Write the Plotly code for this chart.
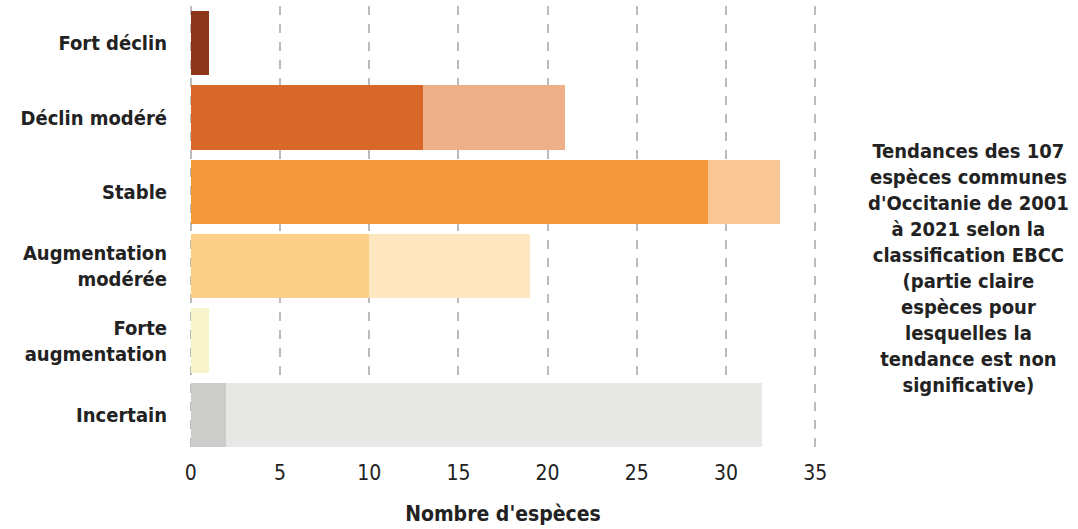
import plotly.graph_objects as go

categories = ["Fort déclin", "Déclin modéré", "Stable", "Augmentation<br>modérée",
              "Forte<br>augmentation", "Incertain"]
significant = [1, 13, 29, 10, 0, 2]
non_significant = [0, 8, 4, 9, 1, 30]
colors_sig = ["#8E361B", "#D8672A", "#F4993B", "#FCCF88", "#F7F4CC", "#CCCDCA"]
colors_nonsig = ["#8E361B", "#EEB089", "#F9C695", "#FDE6C0", "#F7F4CC", "#E7E7E6"]
x_ticks = [0, 5, 10, 15, 20, 25, 30, 35]
note = ("Tendances des 107<br>espèces communes<br>d'Occitanie de 2001<br>à 2021 selon la<br>"
        "classification EBCC<br>(partie claire<br>espèces pour<br>lesquelles la<br>"
        "tendance est non<br>significative)")

FONT = "Liberation Sans Narrow, DejaVu Sans Condensed, Roboto, sans-serif"

fig = go.Figure()
fig.add_trace(go.Bar(y=categories, x=significant, orientation="h",
                     marker=dict(color=colors_sig, line=dict(width=0)),
                     name="significative", hoverinfo="x+y"))
fig.add_trace(go.Bar(y=categories, x=non_significant, orientation="h",
                     marker=dict(color=colors_nonsig, line=dict(width=0)),
                     name="non significative", hoverinfo="x+y"))

fig.update_layout(
    barmode="stack",
    bargap=0.135,
    width=1078, height=529,
    margin=dict(l=189, r=261, t=6, b=77),
    paper_bgcolor="white", plot_bgcolor="white",
    showlegend=False,
    font=dict(family=FONT, color="#222222"),
    xaxis=dict(range=[-0.1, 35.1], tickvals=x_ticks, showgrid=True,
               gridcolor="#BBBBBB", griddash="dash", gridwidth=1.5,
               zeroline=False, showline=False,
               ticks="outside", ticklen=2, tickcolor="rgba(0,0,0,0)",
               tickfont=dict(size=21, color="#222222", family=FONT),
               title=dict(text="<b>Nombre d'espèces</b>", standoff=22,
                          font=dict(size=21, color="#222222", family=FONT))),
    yaxis=dict(autorange="reversed", showgrid=False, zeroline=False, showline=False,
               ticks="outside", ticklen=17, tickcolor="rgba(0,0,0,0)",
               tickfont=dict(size=20, color="#222222", family=FONT)),
)
fig.update_yaxes(ticktext=["<b>" + c + "</b>" for c in categories], tickvals=categories)

fig.add_annotation(text="<b>" + note + "</b>", xref="paper", yref="paper",
                   x=1.241, y=0.413, xanchor="center", yanchor="middle",
                   showarrow=False, align="center",
                   font=dict(size=20, color="#222222", family=FONT))

fig.write_html("out.html")
